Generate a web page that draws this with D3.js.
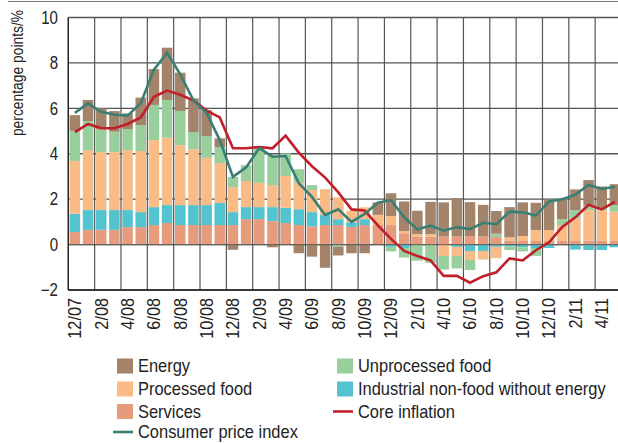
<!DOCTYPE html>
<html>
<head>
<meta charset="utf-8">
<script src="https://cdn.jsdelivr.net/npm/d3@7"></script>
<style>
  html, body { margin: 0; padding: 0; background: #fff; }
  svg text { font-family: 'Liberation Sans Narrow', 'Arial Narrow', 'Liberation Sans', Arial, sans-serif; fill: #222; }
</style>
</head>
<body>
<script>
// months shown, 12/07 .. 5/11
var months = ["12/07","1/08","2/08","3/08","4/08","5/08","6/08","7/08","8/08","9/08","10/08","11/08",
  "12/08","1/09","2/09","3/09","4/09","5/09","6/09","7/09","8/09","9/09","10/09","11/09",
  "12/09","1/10","2/10","3/10","4/10","5/10","6/10","7/10","8/10","9/10","10/10","11/10",
  "12/10","1/11","2/11","3/11","4/11","5/11"];

// contributions, percentage points
var services = [0.55,0.65,0.65,0.65,0.77,0.77,0.86,0.95,0.86,0.86,0.86,0.86,
  0.86,1.12,1.12,1.03,0.95,0.86,0.80,0.86,0.86,0.78,0.86,0.86,
  0.86,0.50,0.34,0.34,0.36,0.36,0.37,0.35,0.33,0.16,0.16,0.16,
  0.16,0.16,0.16,0.18,0.16,0.16];
var industrial = [0.81,0.87,0.87,0.87,0.75,0.66,0.79,0.79,0.88,0.88,0.88,0.97,
  0.57,0.53,0.53,0.62,0.67,0.70,0.63,0.44,0.26,0.20,0.26,0,
  -0.10,-0.15,0,0,0,-0.10,-0.28,-0.28,-0.10,-0.08,-0.12,-0.15,
  -0.15,0,-0.22,-0.24,-0.24,-0.12];
var processedFood = [2.32,2.64,2.55,2.55,2.64,2.69,2.95,2.97,2.64,2.46,2.08,1.76,
  1.10,1.15,1.07,0.97,1.40,1.16,0.97,1.14,0.96,0.51,0.52,0.45,
  0.40,0.10,0.12,0.12,-0.50,-0.40,-0.40,-0.38,-0.50,0.16,0.22,0.48,
  0.48,0.70,0.99,1.34,1.35,1.29];
var unprocessedFood = [1.33,1.28,1.00,0.90,0.93,1.14,1.55,1.66,1.50,0.76,0.96,0.70,
  0.45,0.70,1.50,1.30,1.00,0.60,0.22,0,-0.09,0,0,0,
  -0.20,-0.42,-0.71,-0.80,-0.60,-0.55,-0.44,0,0.15,-0.16,-0.18,-0.35,
  0,0.26,0.37,0.20,0.10,0.29];
var energy = [0.69,0.93,0.93,0.91,0.69,1.21,1.58,2.30,1.69,1.48,1.14,0.39,
  -0.23,0,0.05,-0.12,0,-0.38,-0.53,-1.02,-0.39,-0.38,-0.38,0.55,
  1.00,1.30,1.03,1.42,1.50,1.69,1.50,1.40,1.00,1.33,1.48,1.20,
  1.32,0.88,0.91,1.12,0.95,0.92];

// lines, %
var cpi = [5.80,6.22,5.85,5.72,5.68,6.22,7.70,8.45,7.50,6.35,5.80,4.60,
  2.98,3.40,4.25,3.87,3.90,2.70,2.10,1.30,1.55,1.00,1.35,1.84,
  1.96,1.20,0.67,0.83,0.61,0.77,0.68,0.96,0.90,1.45,1.42,1.28,
  1.90,2.00,2.20,2.63,2.45,2.55];
var coreInflation = [4.95,5.31,5.12,5.12,5.31,5.60,6.51,6.78,6.60,6.35,5.90,5.60,
  4.24,4.24,4.30,4.24,4.80,4.05,3.45,2.95,2.30,1.55,1.50,0.85,
  0.25,-0.28,-0.50,-0.70,-1.38,-1.38,-1.68,-1.39,-1.22,-0.61,-0.70,-0.25,
  0.10,0.78,1.20,1.75,1.55,1.88];

var yTicks = [-2, 0, 2, 4, 6, 8, 10];
var tickMonths = ["12/07","2/08","4/08","6/08","8/08","10/08","12/08","2/09","4/09","6/09","8/09","10/09",
  "12/09","2/10","4/10","6/10","8/10","10/10","12/10","2/11","4/11"];

(function() {

  var keys = ["services", "industrial", "processedFood", "unprocessedFood", "energy"];
  var colors = {
    services: "#e69b7c",
    industrial: "#52c3cf",
    processedFood: "#f9bc86",
    unprocessedFood: "#98cf9c",
    energy: "#a3846b"
  };
  var cpiColor = "#3a7f73", coreColor = "#c11f2a";

  var width = 618, height = 443;
  var plotLeft = 68.3, plotRight = 621.5, plotTop = 17.5, plotBottom = 290;
  // narrow type, like the original
  function squeeze(k) { return 'scale(' + k + ',1)'; }

  var rows = months.map(function(m, i) {
    return {month: m, services: services[i], industrial: industrial[i], processedFood: processedFood[i],
      unprocessedFood: unprocessedFood[i], energy: energy[i]};
  });

  var svg = d3.select('body').append('svg')
      .attr('width', width)
      .attr('height', height);

  var x = d3.scaleBand()
      .domain(months)
      .range([plotLeft, plotRight])
      .paddingInner(0.2)
      .paddingOuter(0.1);

  var y = d3.scaleLinear()
      .domain([-2, 10])
      .range([plotBottom, plotTop]);

  // thin rule on top of the figure
  svg.append('line')
      .attr('x1', 8).attr('x2', width)
      .attr('y1', 1.5).attr('y2', 1.5)
      .attr('stroke', '#777').attr('stroke-width', 1);

  // grid
  var grid = svg.append('g');
  grid.selectAll('line.h')
      .data(yTicks)
    .enter().append('line')
      .attr('class', 'h')
      .attr('x1', plotLeft).attr('x2', width)
      .attr('y1', function(d) { return y(d); })
      .attr('y2', function(d) { return y(d); })
      .attr('stroke', '#555').attr('stroke-width', 1.3);

  var step = x.step();
  grid.selectAll('line.v')
      .data(tickMonths)
    .enter().append('line')
      .attr('class', 'v')
      .attr('x1', function(d) { return x(d) - step * x.paddingOuter(); })
      .attr('x2', function(d) { return x(d) - step * x.paddingOuter(); })
      .attr('y1', plotTop).attr('y2', plotBottom)
      .attr('stroke', '#555').attr('stroke-width', 1.2);

  // stacked bars
  var stack = d3.stack().keys(keys).offset(d3.stackOffsetDiverging);
  var series = stack(rows);

  svg.append('g').selectAll('g')
      .data(series)
    .enter().append('g')
      .attr('fill', function(d) { return colors[d.key]; })
    .selectAll('rect')
      .data(function(d) { return d; })
    .enter().append('rect')
      .attr('x', function(d) { return x(d.data.month); })
      .attr('width', x.bandwidth())
      .attr('y', function(d) { return y(Math.max(d[0], d[1])); })
      .attr('height', function(d) { return Math.abs(y(d[0]) - y(d[1])); });

  // zero line over the bars
  svg.append('line')
      .attr('x1', plotLeft).attr('x2', width)
      .attr('y1', y(0)).attr('y2', y(0))
      .attr('stroke', '#555').attr('stroke-opacity', 0.7).attr('stroke-width', 1.3);

  // axes frame
  svg.append('line')
      .attr('x1', plotLeft).attr('x2', plotLeft)
      .attr('y1', plotTop).attr('y2', plotBottom)
      .attr('stroke', '#222').attr('stroke-width', 1.3);
  svg.append('line')
      .attr('x1', plotLeft).attr('x2', width)
      .attr('y1', plotBottom).attr('y2', plotBottom)
      .attr('stroke', '#222').attr('stroke-width', 1.3);

  // lines
  var line = d3.line()
      .x(function(d, i) { return x(months[i]) + x.bandwidth() / 2; })
      .y(function(d) { return y(d); });

  svg.append('path')
      .datum(coreInflation)
      .attr('d', line)
      .attr('fill', 'none')
      .attr('stroke', coreColor)
      .attr('stroke-width', 2.6);

  svg.append('path')
      .datum(cpi)
      .attr('d', line)
      .attr('fill', 'none')
      .attr('stroke', cpiColor)
      .attr('stroke-width', 2.6);

  // y tick labels
  svg.append('g').selectAll('text')
      .data(yTicks)
    .enter().append('text')
      .attr('transform', function(d) { return 'translate(58,' + y(d) + ') ' + squeeze(0.86); })
      .attr('dy', '0.36em')
      .attr('text-anchor', 'end')
      .style('font-size', '17.5px')
      .text(function(d) { return d < 0 ? '\u2212' + Math.abs(d) : d; });

  svg.append('text')
      .attr('transform', 'translate(23,73) rotate(-90) ' + squeeze(0.84))
      .attr('text-anchor', 'middle')
      .style('font-size', '16.5px')
      .text('percentage points/%');

  // x tick labels
  svg.append('g').selectAll('text')
      .data(tickMonths)
    .enter().append('text')
      .attr('transform', function(d) {
        return 'translate(' + (x(d) + x.bandwidth() / 2) + ',298) rotate(-90) ' + squeeze(0.93);
      })
      .attr('dy', '0.36em')
      .attr('text-anchor', 'end')
      .style('font-size', '17.5px')
      .text(function(d) { return d; });

  // legend
  var legend = [
    {label: 'Energy', key: 'energy', x: 117, y: 366},
    {label: 'Unprocessed food', key: 'unprocessedFood', x: 337, y: 366},
    {label: 'Processed food', key: 'processedFood', x: 117, y: 389},
    {label: 'Industrial non-food without energy', key: 'industrial', x: 337, y: 389},
    {label: 'Services', key: 'services', x: 117, y: 411.5},
    {label: 'Core inflation', line: coreColor, x: 337, y: 411.5},
    {label: 'Consumer price index', line: cpiColor, x: 117, y: 432}
  ];

  var item = svg.append('g').selectAll('g')
      .data(legend)
    .enter().append('g')
      .attr('transform', function(d) { return 'translate(' + d.x + ',' + d.y + ')'; });

  item.filter(function(d) { return d.key; }).append('rect')
      .attr('x', 0).attr('y', -7.5)
      .attr('width', 16).attr('height', 15)
      .attr('fill', function(d) { return colors[d.key]; });

  item.filter(function(d) { return d.line; }).append('line')
      .attr('x1', -4).attr('x2', 16)
      .attr('y1', 0).attr('y2', 0)
      .attr('stroke', function(d) { return d.line; })
      .attr('stroke-width', 2.6);

  item.append('text')
      .attr('transform', 'translate(21,0) ' + squeeze(0.94))
      .attr('dy', '0.36em')
      .style('font-size', '17.5px')
      .text(function(d) { return d.label; });

})();
</script>
</body>
</html>
